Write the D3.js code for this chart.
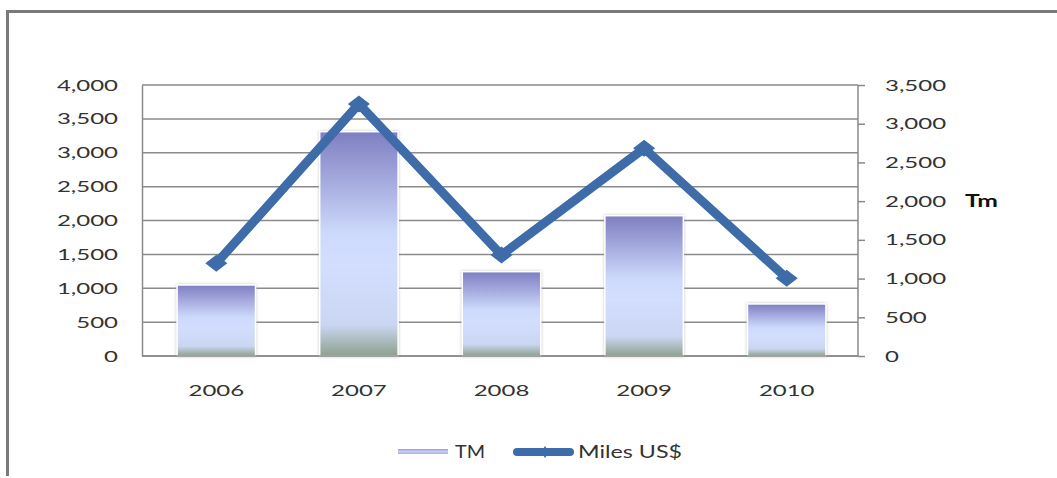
<!DOCTYPE html>
<html>
<head>
<meta charset="utf-8">
<script src="https://cdn.jsdelivr.net/npm/d3@7"></script>
<style>
  html, body { margin: 0; padding: 0; background: #fff; }
  svg { display: block; }
  text { font-family: Lato, "Open Sans", sans-serif; }
</style>
</head>
<body>
<div id="chart"></div>
<script>
// ---- Data ----
const years = ["2006", "2007", "2008", "2009", "2010"];
const tmValues = [917, 2897, 1089, 1812, 672];          // bars, right axis (Tm)
const milesValues = [1368, 3720, 1491, 3066, 1147];     // line, left axis (Miles US$)
const leftTicks = [0, 500, 1000, 1500, 2000, 2500, 3000, 3500, 4000];
const rightTicks = [0, 500, 1000, 1500, 2000, 2500, 3000, 3500];
const seriesNames = ["TM", "Miles US$"];
const rightAxisTitle = "Tm";

// ---- Layout ----
const W = 1057, H = 478;
const plot = { left: 142, right: 858, top: 85, bottom: 356 };
const SX = 1.5; // horizontal text stretch as in reference
const FS = 16;
const TXT = "#333333";

const svg = d3.select("#chart").append("svg").attr("width", W).attr("height", H);
const defs = svg.append("defs");

const grad = defs.append("linearGradient").attr("id", "barGrad")
  .attr("x1", 0).attr("y1", 0).attr("x2", 0).attr("y2", 1);
[[0, "#7e7fc2"], [0.18, "#9ea2d8"], [0.45, "#cdd9fb"], [0.6, "#d3deff"], [0.86, "#cbd6f2"], [1, "#8fa18e"]]
  .forEach(([o, c]) => grad.append("stop").attr("offset", o).attr("stop-color", c));

const lgGrad = defs.append("linearGradient").attr("id", "legGrad")
  .attr("x1", 0).attr("y1", 0).attr("x2", 0).attr("y2", 1);
[[0, "#9a9cd6"], [0.5, "#c6cdf5"], [1, "#a8b0e0"]]
  .forEach(([o, c]) => lgGrad.append("stop").attr("offset", o).attr("stop-color", c));

const shadow = defs.append("filter").attr("id", "barShadow")
  .attr("x", "-20%").attr("y", "-20%").attr("width", "140%").attr("height", "140%");
shadow.append("feDropShadow").attr("dx", 0).attr("dy", 0).attr("stdDeviation", 1.6)
  .attr("flood-color", "#9a9a9a").attr("flood-opacity", 0.6);

// outer frame (top and left edges visible)
svg.append("line").attr("x1", 7).attr("x2", W).attr("y1", 11.5).attr("y2", 11.5)
  .attr("stroke", "#7a7a7a").attr("stroke-width", 3);
svg.append("line").attr("x1", 7.5).attr("x2", 7.5).attr("y1", 10).attr("y2", 476)
  .attr("stroke", "#7a7a7a").attr("stroke-width", 3);

// ---- Scales ----
const x = d3.scaleBand().domain(years).range([145, 858]).paddingInner(0.45).paddingOuter(0.225);
const yL = d3.scaleLinear().domain([0, 4000]).range([plot.bottom, plot.top]);
const yR = d3.scaleLinear().domain([0, 3500]).range([plot.bottom, plot.top]);

// gridlines
svg.append("g").selectAll("line").data(leftTicks).join("line")
  .attr("x1", plot.left).attr("x2", plot.right)
  .attr("y1", d => yL(d)).attr("y2", d => yL(d))
  .attr("stroke", "#8a8a8a").attr("stroke-width", 1.5);

// left axis
const gL = svg.append("g").attr("transform", `translate(${plot.left},0)`)
  .call(d3.axisLeft(yL).tickValues(leftTicks).tickFormat(d3.format(",")).tickSize(0));
gL.select(".domain").attr("stroke", "#8a8a8a").attr("stroke-width", 1.5);
gL.selectAll("text")
  .attr("x", -24 / SX).attr("transform", `scale(${SX},1)`)
  .attr("font-size", FS).attr("fill", TXT).attr("font-family", "Lato");

// right axis
const gR = svg.append("g").attr("transform", `translate(${plot.right},0)`)
  .call(d3.axisRight(yR).tickValues(rightTicks).tickFormat(d3.format(",")).tickSize(7).tickPadding(0));
gR.select(".domain").attr("stroke", "#8a8a8a").attr("stroke-width", 1.5).attr("d", `M0,${plot.top}V${plot.bottom}`);
gR.selectAll(".tick line").attr("stroke", "#8a8a8a").attr("stroke-width", 1.5);
gR.selectAll("text")
  .attr("x", 27 / SX).attr("transform", `scale(${SX},1)`)
  .attr("font-size", FS).attr("fill", TXT).attr("font-family", "Lato");

svg.append("text").text(rightAxisTitle)
  .attr("transform", `translate(965,${yR(2000)}) scale(1.45,1)`)
  .attr("dy", "0.35em").attr("font-size", 17).attr("font-weight", "bold").attr("fill", "#111");

// x axis labels
const gX = svg.append("g").attr("transform", `translate(0,${plot.bottom})`)
  .call(d3.axisBottom(x).tickSize(0).tickPadding(0));
gX.select(".domain").remove();
gX.selectAll("text")
  .attr("y", 0).attr("dy", 0)
  .attr("transform", `translate(0,40) scale(${SX},1)`)
  .attr("font-size", FS).attr("fill", TXT).attr("font-family", "Lato");

// bars
svg.append("g").selectAll("rect").data(years).join("rect")
  .attr("x", d => x(d)).attr("width", x.bandwidth())
  .attr("y", (d, i) => yR(tmValues[i]))
  .attr("height", (d, i) => plot.bottom - yR(tmValues[i]))
  .attr("fill", "url(#barGrad)")
  .attr("stroke", "#ffffff").attr("stroke-width", 1.5)
  .attr("filter", "url(#barShadow)");

// redraw bottom axis line over bars
svg.append("line").attr("x1", plot.left).attr("x2", plot.right)
  .attr("y1", plot.bottom).attr("y2", plot.bottom).attr("stroke", "#8a8a8a").attr("stroke-width", 1.5);

// line series
const lineColor = "#3d6ca9";
const line = d3.line().x((d, i) => x(years[i]) + x.bandwidth() / 2).y(d => yL(d));
svg.append("path").datum(milesValues).attr("d", line)
  .attr("fill", "none").attr("stroke", lineColor).attr("stroke-width", 9)
  .attr("stroke-linejoin", "miter");

const diamond = (w, h) => `M0,${-h / 2}L${w / 2},0L0,${h / 2}L${-w / 2},0Z`;
svg.append("g").selectAll("path").data(milesValues).join("path")
  .attr("transform", (d, i) => `translate(${x(years[i]) + x.bandwidth() / 2},${yL(d)})`)
  .attr("d", diamond(22, 17)).attr("fill", lineColor);

// legend
const lg = svg.append("g");
lg.append("rect").attr("x", 398).attr("y", 449).attr("width", 50).attr("height", 5).attr("fill", "url(#legGrad)");
lg.append("text").text(seriesNames[0])
  .attr("x", 455).attr("y", 452).attr("dy", "0.35em")
  .attr("textLength", 30).attr("lengthAdjust", "spacingAndGlyphs")
  .attr("font-size", 17).attr("fill", TXT);
lg.append("line").attr("x1", 517).attr("x2", 570).attr("y1", 452).attr("y2", 452)
  .attr("stroke", lineColor).attr("stroke-width", 8).attr("stroke-linecap", "round");
lg.append("path").attr("transform", "translate(545,452)").attr("d", diamond(8, 12)).attr("fill", lineColor);
lg.append("text").text(seriesNames[1])
  .attr("x", 578).attr("y", 452).attr("dy", "0.35em")
  .attr("textLength", 104).attr("lengthAdjust", "spacingAndGlyphs")
  .attr("font-size", 17).attr("fill", TXT);
</script>
</body>
</html>
